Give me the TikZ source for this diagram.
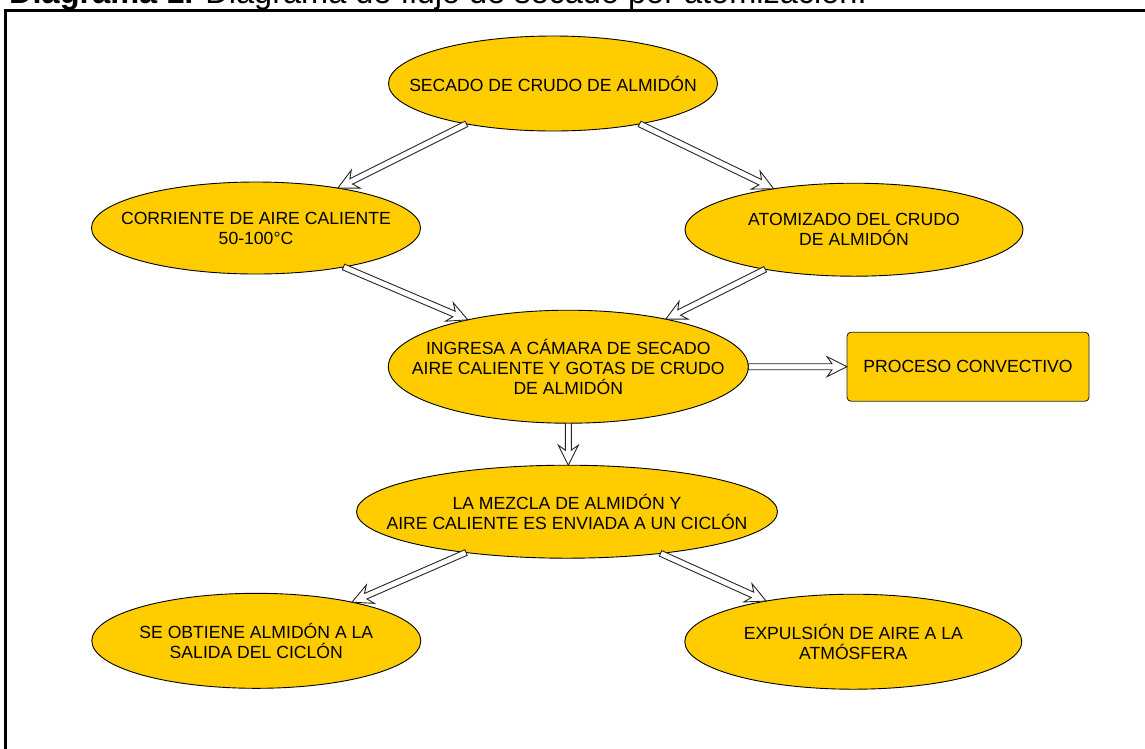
\documentclass[tikz,border=0pt]{standalone}
\usepackage{fontspec}
\setmainfont{Liberation Sans}
\usetikzlibrary{shapes.geometric,calc}

\definecolor{blobfill}{HTML}{FFCC00}

\tikzset{
  blob/.style={ellipse, draw=black, line width=0.9pt, fill=blobfill, inner sep=0pt, outer sep=0pt},
  boxnode/.style={rectangle, rounded corners=4pt, draw=black!85, line width=0.9pt, fill=blobfill,
    inner sep=0pt, outer sep=0pt},
  blobtext/.style={align=center, inner sep=0pt, font=\fontsize{17.6}{20}\selectfont},
  flowline/.style={draw=black!85, fill=white, line width=0.9pt, line join=miter},
  frameline/.style={line width=2.6pt, draw=black},
}

% Hollow double-shaft arrow from #1 to #2 (tip at #2)
\newcommand\flowarrow[2]{%
  \path (#1) coordinate (fa-s) (#2) coordinate (fa-e);
  \path ($(fa-e)!20pt!(fa-s)$) coordinate (fa-b)
        ($(fa-e)!15pt!(fa-s)$) coordinate (fa-j);
  \draw[flowline]
    ($(fa-s)!3pt!90:(fa-e)$) -- ($(fa-j)!3pt!-90:(fa-s)$) --
    ($(fa-b)!10pt!-90:(fa-s)$) -- (fa-e) --
    ($(fa-b)!10pt!90:(fa-s)$) -- ($(fa-j)!3pt!90:(fa-s)$) --
    ($(fa-s)!3pt!-90:(fa-e)$) -- cycle;
}

\begin{document}
\begin{tikzpicture}[x=1pt, y=-1pt]
\useasboundingbox (0,0) rectangle (1145,748);

% caption (its upper part lies above the page edge) and frame
\node[anchor=base west, inner sep=0pt, font=\fontsize{32.5}{36}\selectfont] (caption) at (9,3.5)
  {\textbf{Diagrama 1.} Diagrama de flujo de secado por atomización.};
\draw[frameline] (5.5,770) -- (5.5,10.5) -- (1170,10.5);

% process steps
\node[blob, minimum width=329pt, minimum height=95pt,
  label={[blobtext]center:SECADO DE CRUDO DE ALMIDÓN}] (sec) at (553,83.5) {};
\node[blob, minimum width=329pt, minimum height=92pt,
  label={[blobtext]center:CORRIENTE DE AIRE CALIENTE\\50-100°C}] (air) at (256,228) {};
\node[blob, minimum width=338pt, minimum height=93pt,
  label={[blobtext]center:ATOMIZADO DEL CRUDO\\DE ALMIDÓN}] (atom) at (854,229.7) {};
\node[blob, minimum width=360pt, minimum height=113pt,
  label={[blobtext]center:INGRESA A CÁMARA DE SECADO\\AIRE CALIENTE Y GOTAS DE CRUDO\\DE ALMIDÓN}] (cam) at (568.3,366.7) {};
\node[boxnode, minimum width=242pt, minimum height=69pt,
  label={[blobtext]center:PROCESO CONVECTIVO}] (conv) at (968,366.7) {};
\node[blob, minimum width=421pt, minimum height=93pt,
  label={[blobtext]center:LA MEZCLA DE ALMIDÓN Y\\AIRE CALIENTE ES ENVIADA A UN CICLÓN}] (mez) at (567,511.7) {};
\node[blob, minimum width=329pt, minimum height=95pt,
  label={[blobtext]center:SE OBTIENE ALMIDÓN A LA\\SALIDA DEL CICLÓN}] (alm) at (256.3,640.8) {};
\node[blob, minimum width=337pt, minimum height=95pt,
  label={[blobtext]center:EXPULSIÓN DE AIRE A LA\\ATMÓSFERA}] (exp) at (853.3,641.7) {};

% connectors
\flowarrow{sec.205.6}{air.26.5}
\flowarrow{sec.335.1}{atom.153.6}
\flowarrow{air.336.8}{cam.155.6}
\flowarrow{atom.204.6}{cam.26.7}
\flowarrow{cam.east}{conv.west}
\flowarrow{cam.south}{cam.south |- mez.north}
\flowarrow{mez.202.5}{alm.22.65}
\flowarrow{mez.336.3}{exp.155.7}
\end{tikzpicture}
\end{document}
